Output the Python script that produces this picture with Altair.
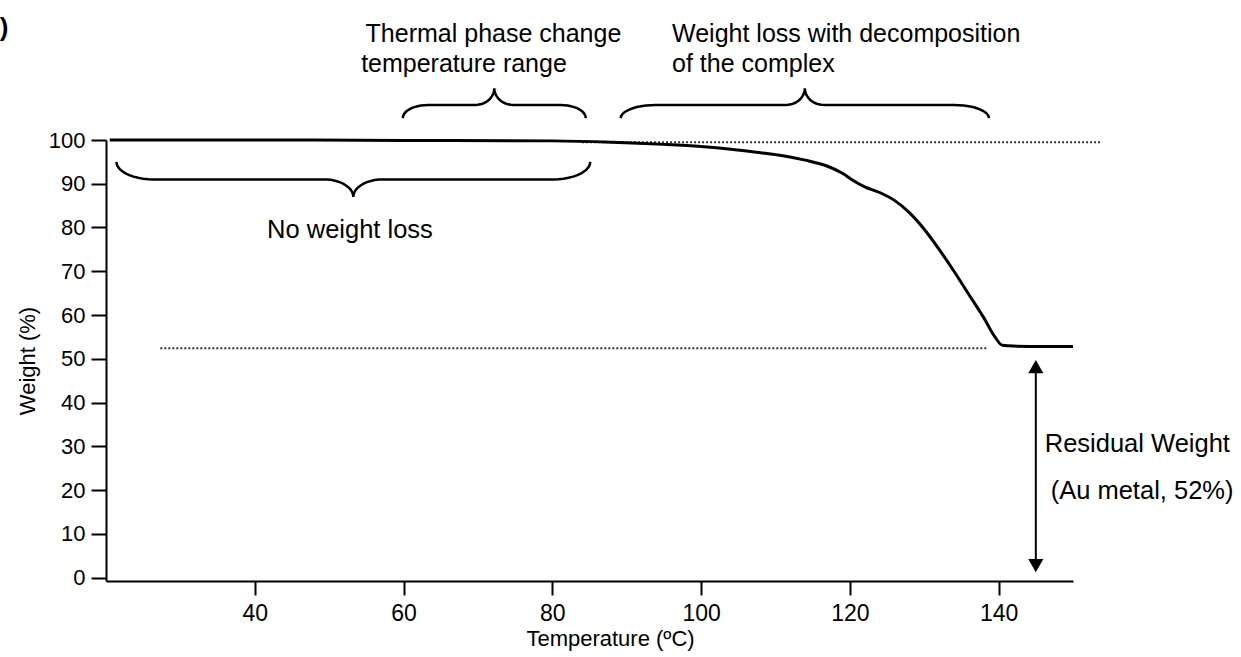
import altair as alt
import pandas as pd
import numpy as np

FONT = "Liberation Sans, Arial, Helvetica, sans-serif"

# --- TGA curve ---
temp = [20.5, 40, 60, 80, 88, 95, 100, 104, 108, 111, 114, 117, 119, 120.5, 122, 124,
        126, 128, 130, 132, 134, 136, 138, 139.5, 140.5, 142, 146, 150]
weight = [100, 100, 99.9, 99.8, 99.5, 99.0, 98.5, 97.9, 97.1, 96.4, 95.4, 94.0, 92.4, 90.7,
          89.3, 88.0, 86.2, 83.4, 79.6, 75.0, 70.0, 64.7, 59.4, 55.0, 53.1, 52.9, 52.8, 52.8]

# --- dotted reference lines ---
ref_id = ["top", "top", "bottom", "bottom"]
ref_t = [84, 153.9, 27.3, 138.6]
ref_w = [99.5, 99.5, 52.4, 52.4]

# --- curly braces ---
brace_x0 = [21.4, 59.9, 89.2]
brace_x1 = [85.1, 84.5, 138.7]
brace_end = [95.0, 105.0, 105.0]
brace_mid = [91.0, 108.0, 108.0]
brace_tip = [87.0, 111.8, 111.8]
brace_rx_end = [5.0, 3.4, 4.7]
brace_rx_tip = [4.0, 2.6, 2.6]

# --- arrow (residual weight) ---
arrow_t = 145.0
arrow_up_w = 48.2     # centre of upper arrow head
arrow_down_w = 2.7    # centre of lower arrow head

# --- annotation texts ---
top_text = ["Thermal phase change", "temperature range",
            "Weight loss with decomposition", "of the complex"]
top_t = [54.9, 54.3, 96.1, 96.1]
top_w = [122.4, 115.5, 122.4, 115.5]

side_text = ["No weight loss", "Residual Weight", "(Au metal, 52%)"]
side_t = [41.65, 146.2, 147.0]
side_w = [77.5, 28.8, 18.0]

x_ticks = [40, 60, 80, 100, 120, 140]
y_ticks = [0, 10, 20, 30, 40, 50, 60, 70, 80, 90, 100]


def brace_points(x0, x1, ye, ym, yt, rxe, rxt, n=12):
    xm = (x0 + x1) / 2
    th = np.linspace(0, np.pi / 2, n)
    pts = []
    for t in th:
        pts.append((x0 + rxe - rxe * np.cos(t), ye + (ym - ye) * np.sin(t)))
    for t in th:
        pts.append((xm - rxt + rxt * np.sin(t), yt + (ym - yt) * np.cos(t)))
    for t in th[::-1]:
        pts.append((xm + rxt - rxt * np.sin(t), yt + (ym - yt) * np.cos(t)))
    for t in th[::-1]:
        pts.append((x1 - rxe + rxe * np.cos(t), ye + (ym - ye) * np.sin(t)))
    return pts


rows = []
for b in range(len(brace_x0)):
    for i, (px, py) in enumerate(brace_points(brace_x0[b], brace_x1[b], brace_end[b],
                                              brace_mid[b], brace_tip[b],
                                              brace_rx_end[b], brace_rx_tip[b])):
        rows.append({"id": b, "i": i, "t": px, "w": py})
brace_df = pd.DataFrame(rows)

curve_df = pd.DataFrame({"t": temp, "w": weight})
ref_df = pd.DataFrame({"id": ref_id, "t": ref_t, "w": ref_w})
top_df = pd.DataFrame({"label": top_text, "t": top_t, "w": top_w})
side_df = pd.DataFrame({"label": side_text, "t": side_t, "w": side_w})
arrow_line_df = pd.DataFrame({"t": [arrow_t], "w": [arrow_down_w], "w2": [arrow_up_w]})
arrow_up_df = pd.DataFrame({"t": [arrow_t], "w": [arrow_up_w]})
arrow_dn_df = pd.DataFrame({"t": [arrow_t], "w": [arrow_down_w]})
tag_df = pd.DataFrame({"label": [")"], "t": [5.7], "w": [125.6]})

xs = alt.Scale(domain=[20, 150], nice=False, zero=False)
ys = alt.Scale(domain=[-0.8, 100], nice=False, zero=False)

x_enc = alt.X("t:Q", scale=xs, title="Temperature (ºC)",
              axis=alt.Axis(values=x_ticks, grid=False, tickSize=14, tickWidth=2,
                            domainWidth=2, domainColor="black", tickColor="black",
                            labelFontSize=23, labelFont=FONT, labelColor="black",
                            labelPadding=7, titleFontSize=22, titleFont=FONT,
                            titleFontWeight="normal", titleColor="black", titlePadding=3,
                            titleX=504, labelFlush=False))
y_enc = alt.Y("w:Q", scale=ys, title="Weight (%)",
              axis=alt.Axis(values=y_ticks, grid=False, tickSize=15, tickWidth=2,
                            domainWidth=2, domainColor="black", tickColor="black",
                            labelFontSize=22, labelFont=FONT, labelColor="black",
                            labelPadding=6, titleFontSize=22, titleFont=FONT,
                            titleFontWeight="normal", titleColor="black", titlePadding=9,
                            labelFlush=False))

curve = alt.Chart(curve_df).mark_line(color="black", strokeWidth=3, interpolate="monotone",
                                      clip=False).encode(x=x_enc, y=y_enc)

refs = alt.Chart(ref_df).mark_line(color="#333333", strokeWidth=2, strokeDash=[2, 2],
                                   clip=False).encode(x=x_enc, y=y_enc, detail="id:N")

braces = alt.Chart(brace_df).mark_line(color="black", strokeWidth=2.5, clip=False).encode(
    x=x_enc, y=y_enc, detail="id:N", order="i:Q")

arrow_line = alt.Chart(arrow_line_df).mark_rule(color="black", strokeWidth=2).encode(
    x=x_enc, y=y_enc, y2="w2:Q")
arrow_up = alt.Chart(arrow_up_df).mark_point(shape="triangle-up", size=230, filled=True,
                                             color="black", opacity=1).encode(x=x_enc, y=y_enc)
arrow_dn = alt.Chart(arrow_dn_df).mark_point(shape="triangle-down", size=230, filled=True,
                                             color="black", opacity=1).encode(x=x_enc, y=y_enc)

top_texts = alt.Chart(top_df).mark_text(align="left", baseline="alphabetic", fontSize=25,
                                        font=FONT, color="black").encode(
    x=x_enc, y=y_enc, text="label:N")

side_texts = alt.Chart(side_df).mark_text(align="left", baseline="alphabetic", fontSize=25.5,
                                          font=FONT, color="black").encode(
    x=x_enc, y=y_enc, text="label:N")

tag = alt.Chart(tag_df).mark_text(align="left", baseline="middle", fontSize=26,
                                  fontWeight="bold", font=FONT, color="black").encode(
    x=x_enc, y=y_enc, text="label:N")

chart = alt.layer(refs, curve, braces, arrow_line, arrow_up, arrow_dn,
                  top_texts, side_texts, tag).properties(
    width=967, height=441,
    autosize=alt.AutoSizeParams(type="none"),
    padding={"left": 106, "top": 140, "right": 168, "bottom": 76},
).configure_view(stroke=None)

chart.save("out.html", embed_options={"renderer": "svg", "actions": False})
